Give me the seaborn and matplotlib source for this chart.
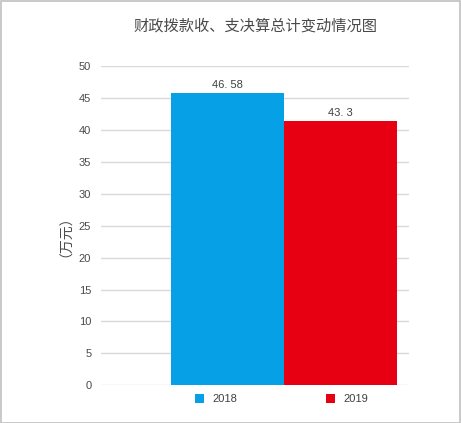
import matplotlib
matplotlib.use("Agg")
import matplotlib.pyplot as plt
import seaborn as sns
import pandas as pd
from matplotlib.patches import Rectangle

# ---- data ----
categories = ["财政拨款收、支决算总计"]
years = ["2018", "2019"]
values = [45.8, 41.4]            # bar heights as drawn in the reference
value_labels = ["46. 58", "43. 3"]  # data labels as printed in the reference
yticks = [0, 5, 10, 15, 20, 25, 30, 35, 40, 45, 50]
title = "财政拨款收、支决算总计变动情况图"
ylabel = "（万元）"
colors = ["#06A0E6", "#E60012"]

sns.set_theme(style="white")
plt.rcParams["font.family"] = ["Liberation Sans", "Noto Sans CJK SC", "DejaVu Sans"]

df = pd.DataFrame({"cat": categories * len(years), "year": years, "value": values})

W, H = 461, 423
fig = plt.figure(figsize=(W / 100, H / 100), dpi=100)
ax = fig.add_axes([101 / W, 1 - 385.3 / H, 308 / W, (385.3 - 66) / H])

sns.barplot(data=df, x="cat", y="value", hue="year", palette=colors,
            width=0.8, saturation=1, ax=ax, zorder=3, edgecolor="none")

ax.set_xlim(-0.646, 0.441)
ax.set_ylim(0, 50)
ax.set_yticks(yticks)
ax.set_xticks([])
ax.set_xlabel("")
ax.set_ylabel("")
for s in ax.spines.values():
    s.set_visible(False)
ax.yaxis.grid(True, color="#D9D9D9", linewidth=1, zorder=0)
ax.tick_params(axis="y", length=0, pad=7, labelsize=8, labelcolor="#4a4a4a")

for cont, lab in zip(ax.containers, value_labels):
    ax.bar_label(cont, labels=[lab], padding=2, fontsize=8, color="#404040")

handles, labels = ax.get_legend_handles_labels()
if ax.get_legend() is not None:
    ax.get_legend().remove()
fig.legend(handles, labels, loc="center", bbox_to_anchor=(281.5 / W, 1 - 399 / H),
           ncol=2, frameon=False, fontsize=8, handlelength=0.85, handleheight=0.85,
           handletextpad=0.7, columnspacing=8.0, borderpad=0, labelcolor="#404040")

cjk = ["Noto Sans CJK SC", "DejaVu Sans"]
fig.text(255.5 / W, 1 - 26 / H, title, ha="center", va="center", fontsize=11,
         color="#4a4a4a", family=cjk)
fig.text(59 / W, 1 - 229.5 / H, ylabel, ha="center", va="center", rotation=90,
         fontsize=10, color="#4a4a4a", family=cjk)

fig.patches.append(Rectangle((0.5 / W, 0.5 / H), 1 - 1.5 / W, 1 - 1.5 / H,
                             transform=fig.transFigure, fill=False,
                             edgecolor="#C0C0C0", linewidth=1.2))

fig.savefig("out.png", dpi=100)
